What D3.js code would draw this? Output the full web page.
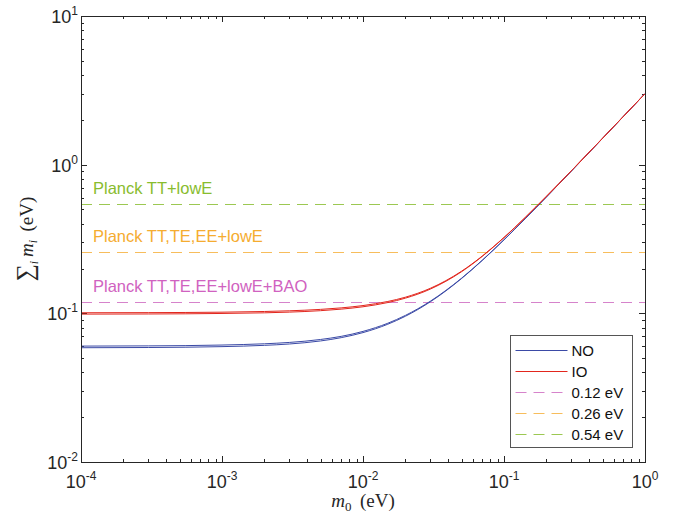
<!DOCTYPE html>
<html>
<head>
<meta charset="utf-8">
<script src="https://cdn.jsdelivr.net/npm/d3@7"></script>
<style>
  body { margin: 0; background: #fff; }
  svg { display: block; }
</style>
</head>
<body>
<div id="chart"></div>
<script>
// lightest neutrino mass (eV)
var m0 = [1e-4, 3e-4, 1e-3, 2e-3, 3e-3, 5e-3, 7e-3, 1e-2, 1.5e-2, 2e-2, 3e-2, 5e-2, 7e-2, 0.1, 0.2, 0.3, 0.5, 0.7, 1];
// sum of masses, two bounding curves per ordering
var noLow  = [0.0587, 0.0589, 0.0597, 0.0609, 0.0622, 0.0652, 0.0686, 0.0742, 0.0845, 0.0956, 0.1195, 0.1714, 0.2266, 0.3122, 0.6063, 0.9043, 1.5026, 2.1018, 3.0013];
var noHigh = [0.0602, 0.0604, 0.0612, 0.0624, 0.0637, 0.0667, 0.0700, 0.0756, 0.0858, 0.0969, 0.1206, 0.1723, 0.2273, 0.3127, 0.6067, 0.9046, 1.5028, 2.1019, 3.0014];
var ioLow  = [0.0988, 0.0990, 0.0998, 0.1008, 0.1019, 0.1042, 0.1067, 0.1107, 0.1182, 0.1265, 0.1455, 0.1905, 0.2413, 0.3230, 0.6120, 0.9081, 1.5049, 2.1035, 3.0024];
var ioHigh = [0.1009, 0.1011, 0.1018, 0.1029, 0.1040, 0.1063, 0.1088, 0.1128, 0.1202, 0.1284, 0.1473, 0.1920, 0.2425, 0.3240, 0.6125, 0.9085, 1.5051, 2.1036, 3.0025];

var bounds = [0.12, 0.26, 0.54];
var boundLabels = ['Planck TT,TE,EE+lowE+BAO', 'Planck TT,TE,EE+lowE', 'Planck TT+lowE'];
var boundColors = ['#d062c0', '#f5ac30', '#88bc2e'];
var dashColors = ['#d683cb', '#f7bd5c', '#9cc852'];
var legendLabels = ['NO', 'IO', '0.12 eV', '0.26 eV', '0.54 eV'];

var xTicks = [1e-4, 1e-3, 1e-2, 1e-1, 1];
var xExp = ['-4', '-3', '-2', '-1', '0'];
var yTicks = [1e-2, 1e-1, 1, 10];
var yExp = ['-2', '-1', '0', '1'];

var W = 673, H = 517;
var margin = {left: 81, right: 28, top: 16, bottom: 55};
var axisColor = '#262626';
var blue = '#3b4aa6', red = '#e2261d';

var svg = d3.select('#chart').append('svg')
  .attr('width', W).attr('height', H);

var x = d3.scaleLog().domain([1e-4, 1]).range([margin.left, W - margin.right]);
var y = d3.scaleLog().domain([1e-2, 10]).range([H - margin.bottom, margin.top]);

var x0 = x.range()[0], x1 = x.range()[1];
var y0 = y.range()[0], y1 = y.range()[1];

// minor ticks
function minors(lo, hi) {
  var out = [];
  for (var e = Math.log10(lo); e < Math.log10(hi); e++) {
    for (var k = 2; k <= 9; k++) out.push(k * Math.pow(10, e));
  }
  return out;
}

var ticks = svg.append('g').attr('stroke', axisColor).attr('stroke-width', 1);
minors(1e-4, 1).forEach(function(v) {
  var px = Math.round(x(v)) + 0.5;
  ticks.append('line').attr('x1', px).attr('x2', px).attr('y1', y0).attr('y2', y0 - 3);
  ticks.append('line').attr('x1', px).attr('x2', px).attr('y1', y1).attr('y2', y1 + 3);
});
xTicks.forEach(function(v) {
  var px = Math.round(x(v)) + 0.5;
  ticks.append('line').attr('x1', px).attr('x2', px).attr('y1', y0).attr('y2', y0 - 6);
  ticks.append('line').attr('x1', px).attr('x2', px).attr('y1', y1).attr('y2', y1 + 6);
});
minors(1e-2, 10).forEach(function(v) {
  var py = Math.round(y(v)) + 0.5;
  ticks.append('line').attr('y1', py).attr('y2', py).attr('x1', x0).attr('x2', x0 + 3);
  ticks.append('line').attr('y1', py).attr('y2', py).attr('x1', x1).attr('x2', x1 - 3);
});
yTicks.forEach(function(v) {
  var py = Math.round(y(v)) + 0.5;
  ticks.append('line').attr('y1', py).attr('y2', py).attr('x1', x0).attr('x2', x0 + 6);
  ticks.append('line').attr('y1', py).attr('y2', py).attr('x1', x1).attr('x2', x1 - 6);
});

// dashed bound lines + labels
bounds.forEach(function(b, i) {
  var py = Math.round(y(b)) + 0.5;
  svg.append('line')
    .attr('x1', x0).attr('x2', x1)
    .attr('y1', py).attr('y2', py)
    .attr('stroke', dashColors[i]).attr('stroke-width', 1)
    .attr('stroke-dasharray', '11,7');
  svg.append('text')
    .attr('x', x0 + 12).attr('y', y(b) - 10)
    .attr('font-family', 'Liberation Sans, Arial, sans-serif')
    .attr('font-size', 16.5)
    .attr('fill', boundColors[i])
    .text(boundLabels[i]);
});

// curves
var line = d3.line()
  .x(function(d) { return x(d[0]); })
  .y(function(d) { return y(d[1]); })
  .curve(d3.curveMonotoneX);

var curves = [
  {vals: noLow, color: blue}, {vals: noHigh, color: blue},
  {vals: ioLow, color: red}, {vals: ioHigh, color: red}
];
curves.forEach(function(c) {
  svg.append('path')
    .datum(d3.zip(m0, c.vals))
    .attr('d', line)
    .attr('fill', 'none')
    .attr('stroke', c.color)
    .attr('stroke-width', 1);
});

// axes box
svg.append('rect')
  .attr('x', x0 + 0.5).attr('y', y1 + 0.5)
  .attr('width', x1 - x0).attr('height', y0 - y1)
  .attr('fill', 'none').attr('stroke', axisColor).attr('stroke-width', 1);

// tick labels
var tickFont = 'Liberation Sans, Arial, sans-serif';
xTicks.forEach(function(v, i) {
  var t = svg.append('text')
    .attr('x', x(v)).attr('y', y0 + 26)
    .attr('text-anchor', 'middle')
    .attr('font-family', tickFont).attr('font-size', 18)
    .attr('fill', axisColor);
  t.append('tspan').text('10');
  t.append('tspan').attr('dy', -8).attr('font-size', 12).text(xExp[i]);
});
yTicks.forEach(function(v, i) {
  var t = svg.append('text')
    .attr('x', x0 - 3).attr('y', y(v) + 7)
    .attr('text-anchor', 'end')
    .attr('font-family', tickFont).attr('font-size', 18)
    .attr('fill', axisColor);
  t.append('tspan').text('10');
  t.append('tspan').attr('dy', -8).attr('font-size', 12).text(yExp[i]);
});

// axis titles
var serif = 'Liberation Serif, DejaVu Serif, serif';
var xt = svg.append('text')
  .attr('x', (x0 + x1) / 2).attr('y', 507)
  .attr('text-anchor', 'middle')
  .attr('font-family', serif).attr('font-size', 19)
  .attr('fill', axisColor);
xt.append('tspan').attr('font-style', 'italic').text('m');
xt.append('tspan').attr('font-size', 13).attr('dy', 4).text('0');
xt.append('tspan').attr('dy', -4).text('\u2009 (eV)');

var yt = svg.append('text')
  .attr('transform', 'translate(33,' + ((y0 + y1) / 2) + ') rotate(-90)')
  .attr('text-anchor', 'middle')
  .attr('font-family', serif).attr('font-size', 19)
  .attr('fill', axisColor);
yt.append('tspan').attr('font-size', 24).text('\u2211');
yt.append('tspan').attr('font-size', 12).attr('font-style', 'italic').attr('dy', 5).text('i');
yt.append('tspan').attr('dy', -5).attr('font-style', 'italic').text('\u2009m');
yt.append('tspan').attr('font-size', 12).attr('font-style', 'italic').attr('dy', 4).text('i');
yt.append('tspan').attr('dy', -4).text('\u2009 (eV)');

// legend
var lg = svg.append('g').attr('transform', 'translate(510.5,335.5)');
lg.append('rect')
  .attr('width', 122).attr('height', 112)
  .attr('fill', '#fff').attr('stroke', '#555').attr('stroke-width', 1);
var legendColors = [blue, red].concat(dashColors);
legendLabels.forEach(function(l, i) {
  var ly = 15 + i * 21;
  lg.append('line')
    .attr('x1', 5).attr('x2', 57).attr('y1', ly).attr('y2', ly)
    .attr('stroke', legendColors[i]).attr('stroke-width', 1)
    .attr('stroke-dasharray', i < 2 ? null : '11,7');
  lg.append('text')
    .attr('x', 61).attr('y', ly + 5)
    .attr('font-family', tickFont).attr('font-size', 15)
    .attr('fill', '#111')
    .text(l);
});
</script>
</body>
</html>
